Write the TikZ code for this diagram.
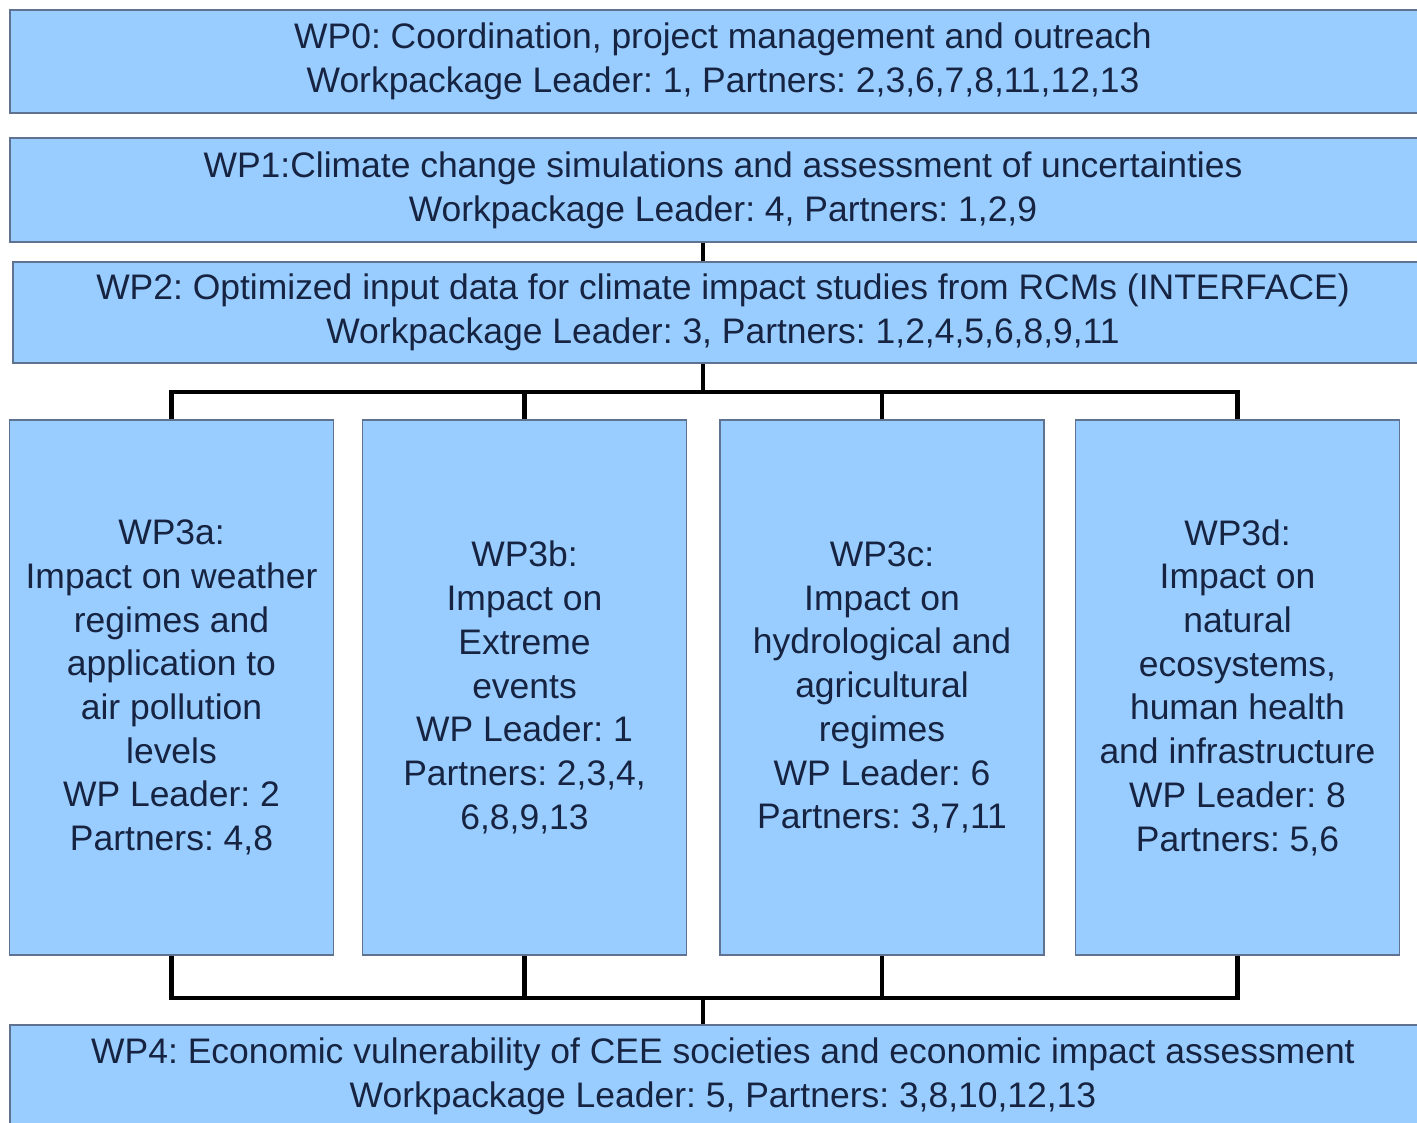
\documentclass[tikz,border=0pt]{standalone}
\usepackage{fontspec}
\setmainfont{Liberation Sans}
\frenchspacing
\usetikzlibrary{positioning}

\definecolor{wpblue}{RGB}{153,204,255}
\definecolor{wpedge}{RGB}{95,115,145}
\definecolor{wptext}{RGB}{22,36,66}

\tikzset{
	wpbox/.style={draw=wpedge, line width=1.4pt, fill=wpblue, text=wptext, align=center, inner sep=0pt,
		font=\fontsize{26.6}{32.8}\selectfont},
	wpbar/.style={wpbox, minimum width=1069.5pt, minimum height=77.5pt},
	wpcol/.style={wpbox, minimum width=243pt, minimum height=401pt},
	link/.style={line width=3.2pt, black}
}

\begin{document}
\begin{tikzpicture}[x=0.75pt,y=0.75pt,yscale=-1,xscale=1]
	\useasboundingbox (0,0) rectangle (1417,1123);
	% horizontal workpackages
	\node[wpbar] (wp0) at (723,61.5) {WP0: Coordination, project management and outreach\\Workpackage Leader: 1, Partners: 2,3,6,7,8,11,12,13};
	\node[wpbar] (wp1) at (723,190) {WP1:Climate change simulations and assessment of uncertainties\\Workpackage Leader: 4, Partners: 1,2,9};
	\node[wpbar, minimum width=1065pt, minimum height=75.75pt] (wp2) at (723,312.5) {WP2: Optimized input data for climate impact studies from RCMs (INTERFACE)\\Workpackage Leader: 3, Partners: 1,2,4,5,6,8,9,11};
	\node[wpbar] (wp4) at (723,1076.5) {WP4: Economic vulnerability of CEE societies and economic impact assessment\\Workpackage Leader: 5, Partners: 3,8,10,12,13};
	% impact workpackages
	\node[wpcol] (wp3a) at (171.5,687.5) {WP3a:\\Impact on weather\\regimes and\\application to\\air pollution\\levels\\WP Leader: 2\\Partners: 4,8};
	\node[wpcol] (wp3b) at (524.5,687.5) {WP3b:\\Impact on\\Extreme\\events\\WP Leader: 1\\Partners: 2,3,4,\\6,8,9,13};
	\node[wpcol] (wp3c) at (882,687.5) {WP3c:\\Impact on\\hydrological and\\agricultural\\regimes\\WP Leader: 6\\Partners: 3,7,11};
	\node[wpcol] (wp3d) at (1237.5,687.5) {WP3d:\\Impact on\\natural\\ecosystems,\\human health\\and infrastructure\\WP Leader: 8\\Partners: 5,6};
	% buses
	\coordinate (topbus) at (703,392);
	\coordinate (lowbus) at (703,998);
	\draw[link] (wp1.south -| topbus) -- (wp2.north -| topbus);
	\draw[link] (wp2.south -| topbus) -- (topbus);
	\draw[link] (wp3a.north) |- (topbus) -| (wp3d.north);
	\draw[link] (wp3b.north) -- (wp3b.north |- topbus);
	\draw[link] (wp3c.north) -- (wp3c.north |- topbus);
	\draw[link] (wp3a.south) |- (lowbus) -| (wp3d.south);
	\draw[link] (wp3b.south) -- (wp3b.south |- lowbus);
	\draw[link] (wp3c.south) -- (wp3c.south |- lowbus);
	\draw[link] (lowbus) -- (wp4.north -| lowbus);
\end{tikzpicture}
\end{document}
